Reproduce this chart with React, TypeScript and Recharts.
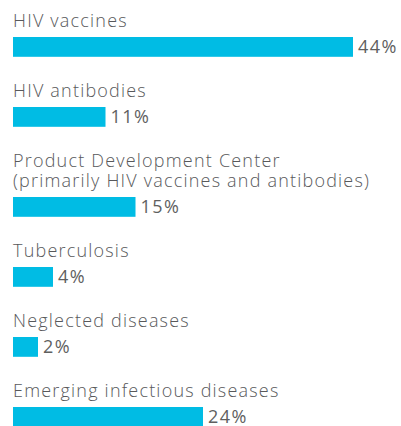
import React from "react";
import { BarChart, Bar, XAxis, YAxis, LabelList } from "recharts";

const categories: string[][] = [
  ["HIV vaccines"],
  ["HIV antibodies"],
  ["Product Development Center", "(primarily HIV vaccines and antibodies)"],
  ["Tuberculosis"],
  ["Neglected diseases"],
  ["Emerging infectious diseases"],
];
const values: number[] = [44, 11, 15, 4, 2, 24];
const valueLabels: string[] = ["44%", "11%", "15%", "4%", "2%", "24%"];

const BAR_COLOR = "#00bce4";
const TEXT_COLOR = "#58595b";
const FONT = "'Open Sans', 'DejaVu Sans', sans-serif";
const PAD = 10;

const PaddedBar = (props: any) => {
  const { x, y, width, height } = props;
  return <rect x={x} y={y} width={Math.max(0, width) + PAD} height={height} fill={BAR_COLOR} />;
};

export default function App() {
  return (
    <div
      style={{
        position: "absolute",
        left: 0,
        top: 0,
        width: 401,
        height: 426,
        overflow: "hidden",
        background: "#ffffff",
        paddingTop: 10,
        boxSizing: "border-box",
        fontFamily: FONT,
      }}
    >
      {categories.map((lines, i) => {
        const data = [{ name: lines.join(" "), value: values[i], label: valueLabels[i] }];
        return (
          <div key={i} style={{ marginBottom: 17 }}>
            <div
              style={{
                marginLeft: 13,
                fontSize: 18,
                lineHeight: "20px",
                fontWeight: 300,
                letterSpacing: "1.2px",
                color: TEXT_COLOR,
                whiteSpace: "nowrap",
              }}
            >
              {lines.map((l, j) => (
                <div key={j}>{l}</div>
              ))}
            </div>
            <div style={{ marginTop: 1 }}>
              <BarChart
                width={401}
                height={32}
                data={data}
                layout="vertical"
                margin={{ top: 5, right: 58, bottom: 5, left: 13 }}
              >
                <XAxis type="number" hide domain={[0, 44]} />
                <YAxis type="category" dataKey="name" hide />
                <Bar
                  dataKey="value"
                  barSize={22}
                  fill={BAR_COLOR}
                  shape={PaddedBar}
                  isAnimationActive={false}
                >
                  <LabelList
                    dataKey="label"
                    position="right"
                    offset={5 + PAD}
                    fill="#5f5f5f"
                    fontSize={18}
                    fontFamily={FONT}
                    style={{ letterSpacing: "1.4px" }}
                  />
                </Bar>
              </BarChart>
            </div>
          </div>
        );
      })}
    </div>
  );
}
